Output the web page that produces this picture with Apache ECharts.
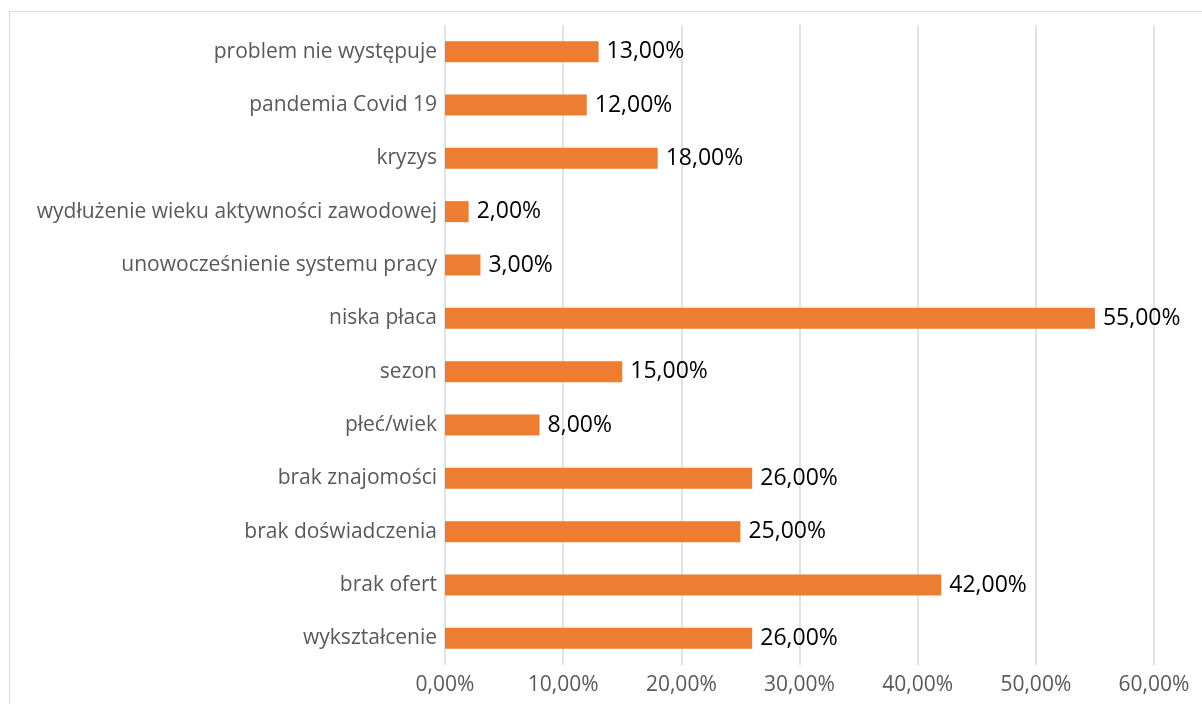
<!DOCTYPE html>
<html>
<head>
<meta charset="utf-8">
<script src="https://cdn.jsdelivr.net/npm/echarts@6/dist/echarts.min.js"></script>
<style>
  html, body { margin: 0; padding: 0; background: #fff; }
  #chart { width: 1202px; height: 704px; }
</style>
</head>
<body>
<div id="chart"></div>
<script>
  // kategorie od dołu do góry
  var categories = ['wykształcenie', 'brak ofert', 'brak doświadczenia', 'brak znajomości', 'płeć/wiek', 'sezon',
    'niska płaca', 'unowocześnienie systemu pracy', 'wydłużenie wieku aktywności zawodowej', 'kryzys',
    'pandemia Covid 19', 'problem nie występuje'];
  var values = [26, 42, 25, 26, 8, 15, 55, 3, 2, 18, 12, 13];
  var xTicks = [0, 10, 20, 30, 40, 50, 60];

  function pct(v) {
    return v.toFixed(2).replace('.', ',') + '%';
  }

  var chart = echarts.init(document.getElementById('chart'));
  var font = 'Open Sans';
  var option = {
    animation: false,
    graphic: [{
      type: 'rect',
      shape: { x: 9.5, y: 11.5, width: 1200, height: 700 },
      style: { fill: 'none', stroke: '#d9d9d9', lineWidth: 1 },
      silent: true
    }],
    grid: { left: 445, right: 48, top: 25, bottom: 39 },
    xAxis: {
      type: 'value',
      min: xTicks[0],
      max: xTicks[xTicks.length - 1],
      interval: 10,
      axisLine: { show: false },
      axisTick: { show: false },
      axisLabel: {
        color: '#595959', fontFamily: font, fontSize: 21, margin: 10,
        formatter: function (v) { return pct(v); }
      },
      splitLine: { lineStyle: { color: '#d9d9d9', width: 1.5 } }
    },
    yAxis: {
      type: 'category',
      data: categories,
      axisLine: { show: false },
      axisTick: { show: false },
      axisLabel: { color: '#595959', fontFamily: font, fontSize: 21, margin: 8 }
    },
    series: [{
      type: 'bar',
      data: values,
      barWidth: 21,
      itemStyle: { color: '#ed7d31' },
      label: {
        show: true,
        position: 'right',
        distance: 8,
        color: '#000',
        fontFamily: font,
        fontSize: 23,
        formatter: function (p) { return pct(p.value); }
      }
    }]
  };
  chart.setOption(option);
</script>
</body>
</html>
